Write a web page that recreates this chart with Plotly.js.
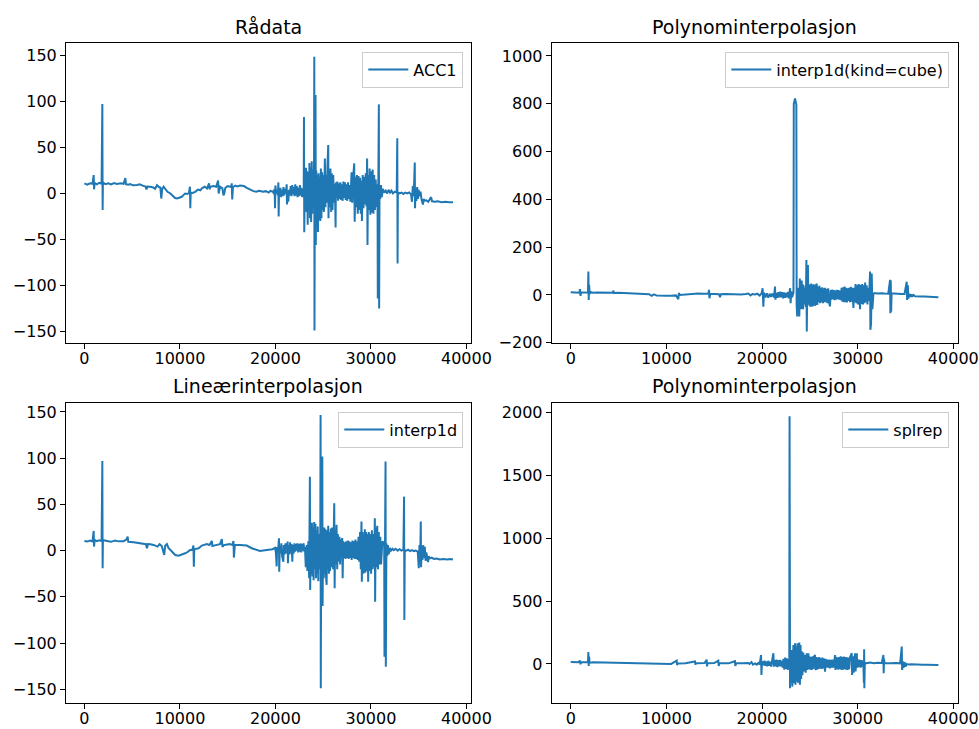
<!DOCTYPE html>
<html><head><meta charset="utf-8">
<script src="https://cdn.plot.ly/plotly-3.0.1.min.js"></script>
<style>html,body{margin:0;padding:0;background:#fff}#chart{width:979px;height:729px}</style>
</head><body><div id="chart"></div>
<script>
const panelTitles = ["Rådata", "Polynominterpolasjon", "Lineærinterpolasjon", "Polynominterpolasjon"];
const seriesNames = ["ACC1", "interp1d(kind=cube)", "interp1d", "splrep"];
const xTickVals = [0, 10000, 20000, 30000, 40000];
const yTicksAcc = [-150, -100, -50, 0, 50, 100, 150];
const yTicksCube = [-200, 0, 200, 400, 600, 800, 1000];
const yTicksSpl = [0, 500, 1000, 1500, 2000];

// Rådata (ACC1) [sample, value]
const rawPts = [
[0,10.9],[300,9.5],[600,11],[850,10.5],[975,20],[1010,4.5],[1080,11.5],[1300,10],[1550,11.5],[1800,10.5],[1880,97],[1910,-18],[1940,12],[2200,10],[2500,11],[2800,9.8],[3100,11.2],[3400,10.2],[3800,11],[4100,10.5],[4200,13],[4290,16.6],[4350,10],[4600,9.5],[4800,10.2],[5100,8.8],[5500,9.1],[5800,10],[6100,8.5],[6400,7.5],[6500,4.5],[6600,7.5],[6900,7.3],[7200,6.5],[7400,5],[7600,9],[7800,7],[7950,6.5],[8050,-5.5],[8150,5],[8300,7.3],[8500,5],[8700,1.8],[9000,0],[9300,-3.6],[9500,-5],[9700,-5.5],[10000,-4.5],[10200,-3.6],[10400,-1.5],[10550,0],[10800,-0.5],[10950,0.7],[11050,7.3],[11090,-16],[11130,1],[11350,0.5],[11600,1.8],[11900,4.3],[12150,3.5],[12300,5.5],[12600,7.3],[12850,5.5],[13050,10.9],[13120,4.5],[13200,7.3],[13500,8],[13800,7.3],[14000,14],[14060,0],[14200,7.3],[14450,5.5],[14560,-2],[14650,0],[14750,6],[15000,8],[15350,7],[15430,11],[15480,-6.5],[15550,7],[15800,8.5],[16000,7.5],[16300,8.5],[16700,8],[17000,6],[17400,3.6],[17700,2.5],[18000,1.8],[18300,3],[18700,1.8],[19000,2.5],[19300,1],[19500,3],[19700,1.8],
[19780,2.5],[19850,-1],[19920,5],[19960,-16],[20000,8.7],[20080,0],[20150,4],[20260,-2],[20310,12],[20340,-25],[20380,3],[20450,-2],[20520,6],[20600,-4],[20680,4],[20760,-3],[20840,7],[20920,-2],[21000,5],[21100,0],[21180,10],[21210,-12],[21280,3],[21350,-9],[21420,4],[21500,-2],[21600,8],[21680,-3],[21760,9],[21840,-1],[21920,7],[22000,-3],[22080,10],[22160,-2],[22240,8],[22320,-4],[22400,6],[22480,-3],[22560,9],[22640,-2],[22720,6],[22800,-4],[22880,5],[22960,-2],
[22990,83],[23020,-42],[23080,20],[23140,-15],[23200,28],[23260,-20],[23320,24],[23380,-34],[23440,23],[23500,-18],[23560,33],[23620,-27],[23680,28],[23740,-31],[23800,35],[23860,-22],[23920,26],[23980,-12],[24040,15],[24070,148.5],[24090,-148.8],[24130,30],[24170,-20],[24200,107],[24230,-56],[24280,25],[24340,-34],[24400,20],[24460,-41.7],[24520,22],[24580,-28],[24640,18],[24700,-30],[24760,27],[24820,-27],[24880,23],[24940,-18],[25000,20],[25080,-20],[25180,38],[25240,-15],[25300,20],[25380,-10],[25450,30],[25530,52.5],[25560,-27],[25620,25],[25700,-15],[25760,27],[25840,-20],[25900,22],[25980,-18],[26050,20],[26150,-10],[26230,10],[26300,-37],[26330,12],[26400,-5],[26480,13],[26560,-8],[26640,11],[26720,-6],[26800,12],[26880,-7],[26960,10],[27040,-8],[27120,13],[27200,-5],[27280,12],[27360,-7],[27440,10],[27520,-8],[27600,12],[27680,-6],[27760,9],[27850,-9],[27970,23],[28050,-10],[28120,15],[28250,32.6],[28300,-30.8],[28380,18],[28460,-15],[28540,20],[28620,-22],[28700,19],[28780,-18],[28860,17],[28940,-22],[29010,14],[29060,-30],[29140,20],[29220,-16],[29300,18],[29380,-12],[29460,22],[29540,-14],[29600,38],[29640,-56],[29700,20],[29780,-18],[29860,27],[29940,-23],[30020,24],[30100,-21],[30180,26],[30260,-22],[30340,20],[30420,-18],[30500,15],[30580,-15],[30690,10],[30720,-114],[30780,20],[30830,96.7],[30860,-125],[30900,8],[30980,-6],[31060,9],[31140,-4],[31250,5],[31400,1],[31550,3],[31700,0],[31850,4],[32000,1],[32150,3],[32300,0],[32500,2],[32700,1],[32760,60],[32790,-76],[32820,1],[33000,0],[33200,1],[33400,-0.5],[33600,1],[33800,0],[34000,1],[34200,-1],[34300,-9],[34380,8],[34460,-3],[34520,10],[34590,33.7],[34620,-16],[34680,6],[34760,-8],[34840,7],[34930,-6],[35000,4],[35100,-3],[35200,2],[35300,-7],[35450,-12],[35520,-6],[35600,-8],[35800,-7.5],[36000,-9],[36300,-4],[36400,-8.5],[36700,-9],[37000,-8.5],[37400,-9.5],[37800,-9],[38200,-9.5],[38590,-9.5]
];

// Polynominterpolasjon, interp1d(kind=cube)
const cubePts = [
[0,11],[500,10],[900,9],[970,24],[1020,-4],[1100,11],[1500,10],[1800,9],[1845,97.6],[1880,-21],[1920,42],[1960,20],[2000,5],[2100,12],[2300,9],[2800,10],[3300,9],[3800,10],[4400,9],[4460,18],[4520,8],[5000,9],[5500,8],[6000,7],[6370,5],[6800,7],[7300,5],[7800,4],[8200,3],[8460,-4],[8700,2],[9000,-3],[9500,-5],[10000,-4],[10500,-3],[11000,-2],[11250,-18],[11300,8],[11400,0],[12000,2],[12300,5],[12800,4],[13340,6],[13800,5],[14400,6],[14460,20.9],[14500,-14],[14600,5],[15000,4],[15500,3],[15610,-9.8],[15700,3],[16200,4],[16800,3],[17350,1.4],[17800,2],[18300,4],[18570,6],[18800,-2],[19000,4],
[19270,2],[19500,5],[19750,-3],[19970,8],[20060,28],[20140,-49],[20200,10],[20350,-10],[20500,7],[20650,-12],[20800,5],[20950,-8],[21100,6],[21250,-10],[21360,35],[21400,-20],[21500,8],[21600,-12],[21700,12],[21800,-10],[21900,14],[22000,-10],[22100,12],[22200,-14],[22300,10],[22400,-12],[22500,8],[22600,-10],[22700,12],[22800,-14],[22930,28],[22990,-35],[23060,15],[23150,-10],[23290,10],[23320,800],[23450,822],[23590,795],[23620,-40],[23680,-90],[23720,30],[23800,-60],[23850,30],[23900,-90],[23950,69],[24000,-40],[24050,50],[24100,-60],[24150,60],[24200,-50],[24250,45],[24300,-60],[24350,40],[24420,-40],[24500,30],[24580,-50],[24640,146],[24680,-153],[24740,50],[24800,125],[24850,-40],[24900,45],[24960,-45],[25020,40],[25080,-50],[25140,48],[25200,-45],[25260,42],[25320,-48],[25380,45],[25440,-40],[25500,40],[25560,-46],[25620,45],[25700,-40],[25720,48],[25780,-42],[25850,35],[25920,-30],[26000,38],[26080,-35],[26150,30],[26220,-30],[26300,32],[26380,-35],[26450,28],[26520,-30],[26600,30],[26680,-30],[26760,25],[26840,-35],[26920,28],[27000,-30],[27110,-48],[27180,20],[27260,-20],[27340,22],[27420,-18],[27500,20],[27580,-22],[27660,18],[27740,-20],[27820,21],[27900,-18],[27980,20],[28060,-20],[28160,18],[28240,-22],[28320,30],[28400,-28],[28480,32],[28560,-30],[28640,35],[28720,-30],[28800,30],[28880,-32],[28960,28],[29040,-25],[29120,30],[29200,-30],[29280,34],[29360,-28],[29440,30],[29520,-30],[29560,-55],[29620,30],[29700,-30],[29780,45],[29860,-35],[29940,40],[30020,-40],[30100,45],[30180,-35],[30250,-60],[30320,42],[30400,-38],[30480,45],[30560,-40],[30640,40],[30700,-35],[30780,52],[30860,-30],[30940,40],[31020,-40],[31100,30],[31180,-25],[31300,97.6],[31330,-146],[31400,-120],[31470,90],[31540,-60],[31650,5],[31800,8],[32000,6],[32200,7],[32400,6],[32600,7],[32800,6],[33000,7],[33200,5],[33390,63],[33420,-77],[33460,60],[33500,-70],[33550,6],[33800,6],[34000,5],[34300,6],[34600,4],[34900,4],[35130,55],[35170,-21],[35250,40],[35300,-15],[35400,5],[35500,-8],[35600,2],[35700,-7],[35820,0],[36000,-6],[36300,-5],[36600,-7],[37000,-6.5],[37400,-8],[37800,-9],[38200,-9.5],[38440,-10]
];

// Lineærinterpolasjon, interp1d
const linPts = [
[0,10.5],[300,9.8],[600,11],[850,10],[975,21.3],[1010,4.4],[1080,11.5],[1300,10.2],[1550,11.2],[1800,10.5],[1880,97],[1910,-19],[1940,11.5],[2370,10.5],[2800,9.5],[3200,10.8],[3600,10],[4110,10.2],[4400,12],[4530,15.2],[4600,9.5],[5160,9.1],[5500,8.5],[5900,8.5],[6200,8],[6450,7],[6550,2.6],[6650,7],[6900,6.8],[7250,6.2],[7660,4.4],[7870,7],[8100,5],[8360,-4.7],[8450,5],[8640,7],[8800,3],[8990,0.8],[9250,-2],[9510,-4.7],[9860,-5.4],[10200,-4.5],[10550,-2.9],[10800,-1.5],[11070,0.8],[11300,1],[11420,5.5],[11460,-17.3],[11500,1.5],[11950,2.6],[12300,5.5],[12820,7],[13100,6],[13340,10.5],[13400,5],[13870,6.2],[14200,7],[14390,12.6],[14450,4],[14600,6],[14910,6.2],[15200,7],[15500,6],[15610,10.5],[15650,-7.5],[15750,6],[16300,6.2],[16700,6],[17000,5.5],[17520,2.6],[17900,1.5],[18390,-0.3],[18900,0.5],[19440,0.8],[19700,1.5],
[19960,3],[20050,-2],[20130,-17],[20180,4],[20280,-1],[20370,13.4],[20400,-22.8],[20460,5],[20540,-3],[20620,8],[20700,-6],[20830,-12],[20880,6],[20960,-4],[21050,8],[21130,-3],[21280,9.8],[21310,-13.7],[21380,6],[21460,-4],[21540,9],[21620,-3],[21700,7],[21770,-12],[21830,6],[21910,-3],[21990,8],[22070,-1],[22150,7],[22230,0],[22310,8],[22390,-2],[22470,7],[22550,-1],[22630,8],[22710,-2],[22790,7],[22870,0],[22950,8],[23030,-1],[23090,4],[23180,-18],[23270,6],[23350,-22],[23450,10],[23530,-30],[23610,80],[23640,-42.6],[23700,20],[23760,-25],[23820,30],[23880,-28],[23940,25],[24000,-32],[24060,31],[24130,-20],[24190,29],[24250,-30],[24310,22],[24370,-25],[24430,26],[24490,-33],[24550,18],[24620,-20],[24700,20],[24730,146.8],[24750,-149],[24800,25],[24860,-20],[24910,101.7],[24940,-60],[25000,20],[25060,-30],[25120,25],[25180,-25],[25240,23],[25300,-28],[25360,-37],[25420,22],[25490,-20],[25530,27],[25600,-25],[25660,20],[25720,-22],[25800,24],[25870,-18],[25950,25],[26040,-20],[26160,51.2],[26200,-40.8],[26260,22],[26330,-15],[26400,28],[26470,-20],[26540,18],[26620,-12],[26700,15],[26780,-15],[26860,10],[27000,13.4],[27040,-30],[27100,10],[27180,-8],[27260,9],[27340,-9],[27420,10],[27500,-8],[27580,11],[27660,-9],[27740,10],[27820,-8],[27900,9],[27980,-10],[28060,11],[28140,-8],[28220,10],[28300,-9],[28380,12],[28460,-9],[28540,10],[28620,-10],[28700,15],[28780,-12],[28860,20],[28940,-20],[29010,31.4],[29050,-33.6],[29120,20],[29200,-25],[29280,18],[29360,23],[29420,-24],[29500,20],[29580,-22],[29660,18],[29710,-33.6],[29780,20],[29860,-22],[29940,18],[30020,-25],[30100,22],[30180,-20],[30260,18],[30340,-18],[30410,35],[30440,-55.3],[30500,25],[30580,-18],[30660,27],[30740,-20],[30820,20],[30900,-15],[30980,15],[31060,-15],[31200,10],[31390,8],[31420,-114.8],[31480,15],[31530,96.3],[31560,-125.6],[31620,8],[31700,-6],[31780,6],[31860,-4],[31980,3],[32100,0],[32250,2],[32400,0.5],[32600,2],[32800,0],[33000,1.5],[33200,0],[33400,1],[33470,58.4],[33500,-75.1],[33540,0.5],[33700,0],[33900,1],[34100,-0.5],[34300,0.5],[34500,-0.5],[34700,0],[34900,-1],[35010,-19],[35080,6],[35150,-12],[35220,31.4],[35250,-17.9],[35320,5],[35400,-10],[35480,6],[35560,-8],[35640,4],[35720,-11],[35800,-2],[35900,-8],[35980,-12.5],[36050,-6],[36150,-8.5],[36350,-7.5],[36600,-9],[36900,-8.5],[37200,-9.5],[37600,-9],[38000,-9.5],[38300,-9],[38590,-9.5]
];

// Polynominterpolasjon, splrep
const splPts = [
[0,16],[400,15],[800,14],[970,26.5],[1020,-2.7],[1100,15],[1500,14],[1800,13],[1845,95],[1880,-16],[1920,58],[1960,20],[2050,10],[2300,13],[2800,12],[3500,13],[4200,12],[4500,14],[5000,10],[5500,11],[6000,9],[6500,8],[7000,9],[7500,7],[8000,5],[8500,3],[9000,0],[9500,1],[10000,2],[10500,0],[11080,26],[11120,-8],[11200,4],[12000,5],[12990,20],[13030,-5],[13100,6],[14000,7],[14210,34],[14250,-20],[14300,6],[15000,7],[15430,26.5],[15470,-16],[15550,8],[16500,5],[17170,22],[17210,-15],[17300,6],[18000,6],[18570,8],[18700,0],[18900,15],[19050,-5],[19200,8],
[19270,5],[19450,-5],[19600,8],[19750,-6],[19900,71],[19940,-87],[20000,20],[20140,-10],[20250,25],[20350,-15],[20450,20],[20550,-18],[20650,25],[20750,-15],[20840,18],[20950,-20],[21050,22],[21190,85],[21230,-21],[21300,30],[21400,-20],[21500,35],[21600,-25],[21700,30],[21800,-18],[21900,32],[22000,-20],[22060,25],[22160,-30],[22240,40],[22330,-45],[22420,50],[22510,-40],[22600,45],[22700,-48],[22760,40],[22850,-30],[22880,1970],[22930,-193],[22990,100],[23050,-150],[23100,111],[23170,-180],[23280,150],[23330,-154],[23400,120],[23450,164],[23500,-166],[23560,140],[23630,-140],[23700,164],[23760,-150],[23830,140],[23900,170],[23960,-166],[24030,150],[24090,-120],[24150,100],[24220,-90],[24320,90],[24400,-60],[24480,70],[24560,-70],[24670,85],[24750,-48],[24850,85],[24900,-40],[24960,60],[25040,-45],[25120,55],[25200,-48],[25280,60],[25360,-40],[25440,58],[25540,71],[25600,-50],[25680,55],[25760,-45],[25840,50],[25920,-40],[26000,55],[26070,-35],[26150,45],[26230,-40],[26310,50],[26390,-35],[26470,45],[26590,-61],[26660,40],[26740,-30],[26820,35],[26940,-30],[27020,35],[27100,-35],[27180,32],[27260,-30],[27340,35],[27460,-30],[27640,71],[27680,-48],[27760,55],[27840,-40],[27920,50],[27990,-45],[28070,55],[28150,-40],[28230,60],[28310,-48],[28390,55],[28470,-45],[28550,58],[28630,-42],[28710,55],[28790,-45],[28870,52],[28950,-48],[29030,50],[29110,-42],[29210,55],[29380,85],[29420,-87],[29500,60],[29580,-70],[29730,85],[29780,-60],[29910,85],[29960,-30],[30080,35],[30160,-25],[30240,32],[30320,-30],[30430,30],[30500,-20],[30590,20],[30650,-150],[30680,117],[30700,-193],[30750,10],[30950,5],[31300,12],[31700,6],[32100,10],[32520,8],[32690,71],[32720,-74],[32760,40],[32800,6],[33040,8],[33500,6],[34000,7],[34440,5],[34610,138],[34650,-48],[34720,20],[34790,-30],[34900,15],[35000,-20],[35140,0],[35310,-5],[35600,-3],[36000,-6],[36400,-4],[36800,-7],[37200,-6],[37600,-8],[38000,-7],[38440,-8]
];

const FONT = 'DejaVu Sans, sans-serif';
const BLUE = '#1f77b4';
const fmt = v => String(v).replace('-', '\u2212');

const sets = [rawPts, cubePts, linPts, splPts];
const axisIds = ['', '2', '3', '4'];
const legendIds = ['legend', 'legend2', 'legend3', 'legend4'];

const traces = sets.map((pts, i) => ({
  type: 'scatter', mode: 'lines',
  x: pts.map(p => p[0]), y: pts.map(p => p[1]),
  xaxis: 'x' + axisIds[i], yaxis: 'y' + axisIds[i],
  name: seriesNames[i], legend: legendIds[i], showlegend: true,
  line: {color: BLUE, width: 2}
}));

const colX = [[66/979, 470.5/979], [551.7/979, 957.7/979]];
const rowY = [[1 - 342.7/729, 1 - 43.3/729], [1 - 702.7/729, 1 - 402.7/729]];
const xRanges = [[-1925, 40425], [-1990, 40460], [-1925, 40425], [-1990, 40460]];
const yRanges = [[-162, 163], [-200, 1053], [-164.5, 160], [-308, 2077]];
const yTicks = [yTicksAcc, yTicksCube, yTicksAcc, yTicksSpl];

function axisBase() {
  return {ticks: 'outside', ticklen: 5, tickwidth: 1, tickcolor: '#000',
    showline: true, mirror: true, linecolor: '#000', linewidth: 1,
    showgrid: false, zeroline: false, fixedrange: true,
    tickfont: {family: FONT, size: 16, color: '#000'}, tickmode: 'array'};
}

const layout = {
  width: 979, height: 729,
  margin: {l: 0, r: 0, t: 0, b: 0},
  paper_bgcolor: '#fff', plot_bgcolor: '#fff',
  font: {family: FONT, color: '#000'},
  annotations: []
};

for (let i = 0; i < 4; i++) {
  const col = i % 2, row = Math.floor(i / 2);
  const id = axisIds[i];
  layout['xaxis' + id] = Object.assign(axisBase(), {
    domain: colX[col], range: xRanges[i], anchor: 'y' + id,
    tickvals: xTickVals, ticktext: xTickVals.map(fmt), ticklabelstandoff: -4
  });
  layout['yaxis' + id] = Object.assign(axisBase(), {
    domain: rowY[row], range: yRanges[i], anchor: 'x' + id,
    tickvals: yTicks[i], ticktext: yTicks[i].map(fmt)
  });
  const legRight = col === 0 ? 463.3/979 : 949.3/979;
  const legTop = row === 0 ? 1 - 51.7/729 : 1 - 411.7/729;
  layout[legendIds[i]] = {
    x: legRight, y: legTop, xanchor: 'right', yanchor: 'top',
    xref: 'paper', yref: 'paper', itemwidth: 40,
    bgcolor: 'rgba(255,255,255,0.8)', bordercolor: '#cccccc', borderwidth: 1,
    font: {family: FONT, size: 16, color: '#000'}
  };
  layout.annotations.push({
    text: panelTitles[i], xref: 'paper', yref: 'paper',
    x: (colX[col][0] + colX[col][1]) / 2,
    y: rowY[row][1] + 3.5/729, xanchor: 'center', yanchor: 'bottom',
    showarrow: false, font: {family: FONT, size: 19, color: '#000'}
  });
}

Plotly.newPlot('chart', traces, layout, {displayModeBar: false, staticPlot: true});
</script>
</body></html>
